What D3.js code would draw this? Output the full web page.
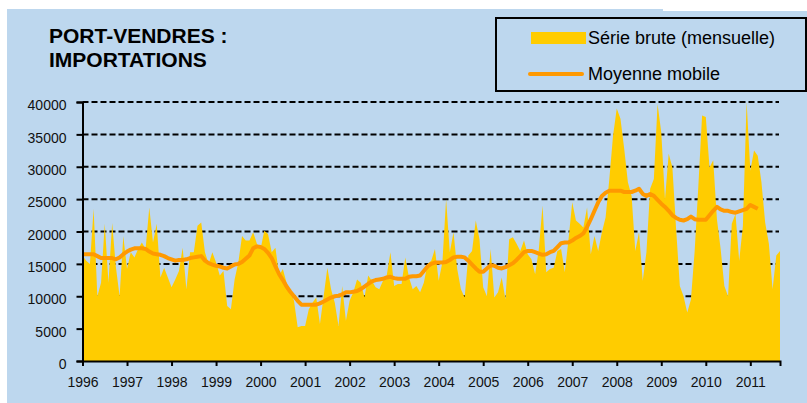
<!DOCTYPE html>
<html>
<head>
<meta charset="utf-8">
<title>port-vendres-importations</title>
<style>
  body { margin: 0; background: #fff; font-family: "Liberation Sans", Arial, sans-serif; }
  .grid line { stroke: #000; stroke-width: 2; stroke-dasharray: 6 3; }
  .axis path, .axis line { stroke: #000; stroke-width: 2; }
  .axis text { font-family: "Liberation Sans", Arial, sans-serif; font-size: 14px; fill: #111; }
</style>
</head>
<body>
<script src="https://cdn.jsdelivr.net/npm/d3@7"></script>
<script>
// year tick labels (first month of each year)
var years = [1996, 1997, 1998, 1999, 2000, 2001, 2002, 2003, 2004, 2005, 2006, 2007, 2008, 2009, 2010, 2011];
var yTicks = [0, 5000, 10000, 15000, 20000, 25000, 30000, 35000, 40000];

// monthly raw series, Jan 1996 -> Sep 2011
var serieBrute = [
  16300, 15500, 15000, 23500, 10000, 12100, 21200, 12100, 21300, 14500, 10000, 19300,
  14200, 16800, 16000, 17300, 18300, 17300, 23700, 18300, 21200, 12900, 14400, 12900,
  11400, 12600, 13900, 17500, 11100, 16800, 16800, 20900, 21400, 16800, 15000, 16800,
  15200, 13200, 13900, 8500, 8000, 12600, 15200, 19300, 18600, 18600, 19900, 18100,
  17300, 20100, 19600, 16800, 17500, 13200, 14200, 12100, 10800, 9300, 5200, 5400,
  5400, 8000, 9000, 9800, 5700, 10000, 14400, 11100, 9000, 5400, 11600, 6200,
  9300, 10600, 12600, 12100, 9800, 13200, 12400, 11400, 11100, 12400, 13200, 16800,
  11600, 11900, 11900, 16000, 12900, 11100, 11600, 10600, 12100, 15000, 15500, 17300,
  12400, 15200, 25000, 16800, 19900, 14200, 11100, 9800, 16300, 17000, 21700, 18800,
  11400, 10000, 17300, 9800, 10600, 12900, 9500, 18800, 19100, 18100, 17000, 18600,
  16500, 15700, 13400, 17300, 24000, 13700, 14200, 14400, 17000, 17300, 13700, 18800,
  24500, 21700, 21200, 20600, 23700, 16500, 19300, 17000, 19900, 22200, 28100, 34800,
  39000, 37400, 32800, 27600, 25500, 17000, 19900, 12400, 16800, 26600, 28100, 39700,
  35300, 25000, 32000, 29900, 20400, 11600, 10000, 7500, 9500, 17000, 27100, 37900,
  37700, 29900, 31000, 21900, 17300, 11600, 10000, 21200, 22700, 15500, 20900, 40000,
  29400, 32500, 31700, 27600, 21400, 18100, 11100, 16300, 17000
];

// moving average, Jan 1996 -> Mar 2011
var moyenneMobile = [
  16500, 16500, 16500, 16500, 16200, 15900, 15900, 15900, 15900, 15700, 16000, 16500,
  16900, 17200, 17400, 17400, 17400, 17300, 16900, 16600, 16500, 16400, 16200, 15900,
  15700, 15500, 15600, 15600, 15700, 15900, 16000, 16100, 16200, 15500, 15100, 14900,
  14700, 14600, 14400, 14300, 14600, 14900, 15000, 15300, 15800, 16300, 17400, 17700,
  17600, 17300, 16700, 15900, 14600, 13400, 12500, 11500, 10700, 10000, 9300, 8700,
  8700, 8700, 8700, 8700, 8900, 9200, 9500, 9800, 10000, 10100, 10300, 10600,
  10600, 10700, 10800, 11100, 11500, 11900, 12300, 12500, 12600, 12700, 12900, 13000,
  12800, 12700, 12700, 12700, 13000, 13100, 13100, 13200, 13900, 14600, 15000, 15200,
  15200, 15200, 15300, 15600, 16000, 16100, 16100, 16000, 15500, 14900, 14300, 13800,
  13800, 14300, 14800, 14700, 14400, 14300, 14500, 14800, 15100, 15600, 16200, 16800,
  17000, 17000, 16800, 16600, 16400, 16500, 16800, 17000, 17600, 18200, 18300, 18300,
  18600, 19000, 19300, 19700, 20700, 21900, 23200, 24500, 25500, 26000, 26300, 26300,
  26300, 26300, 26100, 26100, 26100, 26300, 26600, 25800, 25500, 25800, 25500, 24900,
  24300, 23800, 23200, 22500, 22100, 21800, 21700, 21900, 22300, 21900, 21800, 21800,
  21800, 22500, 23200, 23800, 23400, 23200, 23200, 23000, 22900, 23100, 23300, 23500,
  24100, 23800, 23500
];

var W = 807, H = 403;
var svg = d3.select("body").append("svg")
    .attr("width", W)
    .attr("height", H);

// light blue panel
svg.append("rect").attr("x", 7).attr("y", 9).attr("width", W - 7).attr("height", H - 9).attr("fill", "#bdd7ee");
svg.append("rect").attr("x", 663).attr("y", 9).attr("width", W - 663).attr("height", 2).attr("fill", "#fff");

var x = d3.scaleLinear()
    .domain([0, serieBrute.length - 1])
    .range([82.5, 780]);

var y = d3.scaleLinear()
    .domain([0, 40000])
    .range([361, 102]);

// dashed gridlines (behind the area)
svg.append("g")
    .attr("class", "grid")
    .selectAll("line")
    .data(yTicks.filter(function (d) { return d > 0; }))
    .enter().append("line")
    .attr("x1", x(0))
    .attr("x2", 779)
    .attr("y1", function (d) { return y(d); })
    .attr("y2", function (d) { return y(d); });

var area = d3.area()
    .x(function (d, i) { return x(i); })
    .y0(y(0))
    .y1(function (d) { return y(d); });

svg.append("path")
    .datum(serieBrute)
    .attr("fill", "#ffcc00")
    .attr("d", area);

var line = d3.line()
    .x(function (d, i) { return x(i); })
    .y(function (d) { return y(d); });

svg.append("path")
    .datum(moyenneMobile)
    .attr("fill", "none")
    .attr("stroke", "#ff9900")
    .attr("stroke-width", 4)
    .attr("stroke-linejoin", "round")
    .attr("d", line);

// axes
svg.append("g")
    .attr("class", "axis")
    .attr("transform", "translate(0," + y(0) + ")")
    .call(d3.axisBottom(x)
        .tickValues(years.map(function (yr) { return (yr - years[0]) * 12; }))
        .tickFormat(function (d) { return years[d / 12]; })
        .tickSizeOuter(0)
        .tickSize(5)
        .tickPadding(11));

var yAxis = svg.append("g")
    .attr("class", "axis")
    .attr("transform", "translate(" + x(0) + ",0)")
    .call(d3.axisLeft(y)
        .tickValues(yTicks)
        .tickFormat(d3.format("d"))
        .tickSizeOuter(0)
        .tickSize(6)
        .tickPadding(10));
yAxis.selectAll("text").attr("dy", "0.55em");

// title
var title = svg.append("text")
    .attr("x", 49)
    .attr("y", 43)
    .style("font-size", "21px")
    .style("font-weight", "bold")
    .attr("fill", "#000");
title.append("tspan").attr("x", 49).text("PORT-VENDRES :");
title.append("tspan").attr("x", 49).attr("y", 67).text("IMPORTATIONS");

// legend
var legend = svg.append("g");
legend.append("rect")
    .attr("x", 496).attr("y", 18)
    .attr("width", 310).attr("height", 73)
    .attr("fill", "#bdd7ee")
    .attr("stroke", "#000")
    .attr("stroke-width", 2);
legend.append("rect")
    .attr("x", 531).attr("y", 32)
    .attr("width", 55).attr("height", 12)
    .attr("fill", "#ffcc00");
legend.append("line")
    .attr("x1", 530).attr("x2", 582)
    .attr("y1", 74).attr("y2", 74)
    .attr("stroke", "#ff9900")
    .attr("stroke-width", 4)
    .attr("stroke-linecap", "round");
legend.append("text")
    .attr("x", 588).attr("y", 43.5)
    .style("font-size", "18px")
    .text("Série brute (mensuelle)");
legend.append("text")
    .attr("x", 588).attr("y", 80)
    .style("font-size", "18px")
    .text("Moyenne mobile");
</script>
</body>
</html>
